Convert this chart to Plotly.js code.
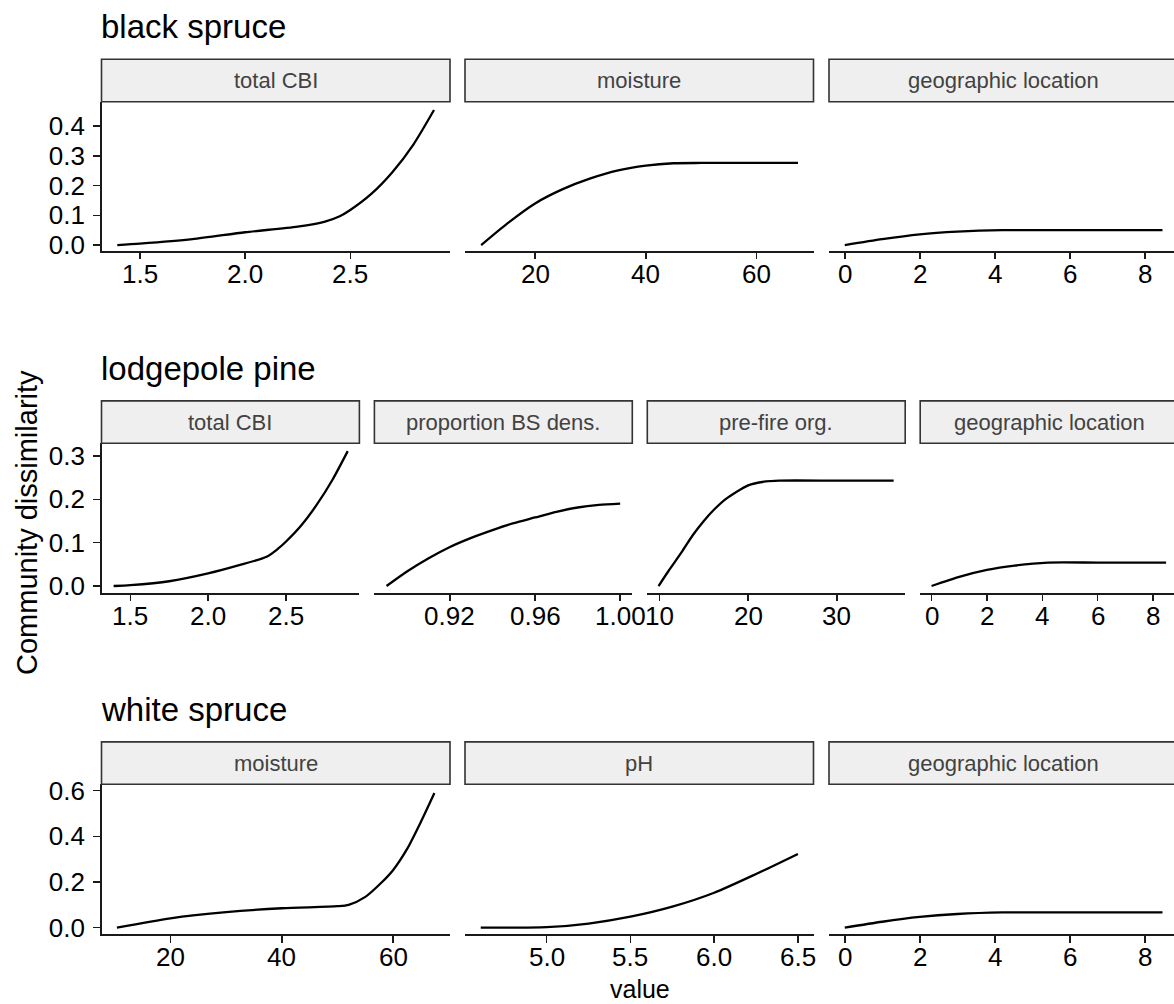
<!DOCTYPE html>
<html>
<head>
<meta charset="utf-8">
<script src="https://cdn.plot.ly/plotly-3.0.1.min.js"></script>
<style>
html, body { margin:0; padding:0; background:#fff; overflow:hidden; }
#chart { width:1178px; height:1004px; }
</style>
</head>
<body>
<div id="chart"></div>
<script>
// ---------------- DATA ----------------
const groupTitles = ["black spruce", "lodgepole pine", "white spruce"];
const stripLabels = [
  ["total CBI", "moisture", "geographic location"],
  ["total CBI", "proportion BS dens.", "pre-fire org.", "geographic location"],
  ["moisture", "pH", "geographic location"]
];
const yTitle = "Community dissimilarity";
const xTitle = "value";

// black spruce
const bsCbiX = [1.393, 1.5, 1.75, 2.0, 2.25, 2.38, 2.45, 2.5, 2.6, 2.7, 2.8, 2.898];
const bsCbiY = [0.000, 0.005, 0.020, 0.043, 0.062, 0.079, 0.097, 0.118, 0.172, 0.245, 0.338, 0.454];
const bsMoistX = [10.25, 15, 20, 25, 30, 35, 40, 45, 50, 60, 67.5];
const bsMoistY = [0.000, 0.073, 0.140, 0.188, 0.224, 0.251, 0.267, 0.275, 0.276, 0.276, 0.276];
const bsGeoX = [0, 1, 2, 3, 4.2, 6, 8.47];
const bsGeoY = [0.000, 0.020, 0.036, 0.045, 0.050, 0.050, 0.050];

// lodgepole pine
const lpCbiX = [1.393, 1.5, 1.75, 2.0, 2.2, 2.38, 2.45, 2.5, 2.6, 2.7, 2.8, 2.898];
const lpCbiY = [0.000, 0.002, 0.011, 0.029, 0.048, 0.068, 0.086, 0.102, 0.140, 0.188, 0.245, 0.311];
const lpPropX = [0.8902, 0.90, 0.91, 0.92, 0.93, 0.94, 0.95, 0.96, 0.97, 0.98, 0.99, 1.00];
const lpPropY = [0.000, 0.034, 0.064, 0.090, 0.111, 0.129, 0.145, 0.158, 0.171, 0.181, 0.187, 0.190];
const lpOrgX = [9.9, 11, 12.5, 13.75, 15, 16.25, 17.5, 20, 22, 23.5, 30, 36.4];
const lpOrgY = [0.000, 0.034, 0.078, 0.117, 0.150, 0.178, 0.201, 0.232, 0.241, 0.243, 0.243, 0.243];
const lpGeoX = [0, 1, 2, 3, 4.2, 6, 8.47];
const lpGeoY = [0.000, 0.021, 0.037, 0.047, 0.054, 0.054, 0.054];

// white spruce
const wsMoistX = [10.4, 20, 30, 40, 50, 52, 55, 58, 60, 62.5, 65, 67.4];
const wsMoistY = [0.000, 0.041, 0.068, 0.085, 0.094, 0.100, 0.135, 0.200, 0.253, 0.345, 0.465, 0.590];
const wsPhX = [4.606, 5.0, 5.25, 5.5, 5.75, 6.0, 6.25, 6.5];
const wsPhY = [0.000, 0.002, 0.018, 0.048, 0.092, 0.153, 0.235, 0.323];
const wsGeoX = [0, 1, 2, 3, 4.2, 6, 8.47];
const wsGeoY = [0.000, 0.026, 0.047, 0.060, 0.067, 0.067, 0.067];

// tick values
const rowYTicks = [[0, 0.1, 0.2, 0.3, 0.4], [0, 0.1, 0.2, 0.3], [0, 0.2, 0.4, 0.6]];
const panelXTicks = [
  [1.5, 2.0, 2.5], [20, 40, 60], [0, 2, 4, 6, 8],
  [1.5, 2.0, 2.5], [0.92, 0.96, 1.00], [10, 20, 30], [0, 2, 4, 6, 8],
  [20, 40, 60], [5.0, 5.5, 6.0, 6.5], [0, 2, 4, 6, 8]
];
const panelXDecimals = [1, 0, 0, 1, 2, 0, 0, 0, 1, 0];

const series = [
  [bsCbiX, bsCbiY], [bsMoistX, bsMoistY], [bsGeoX, bsGeoY],
  [lpCbiX, lpCbiY], [lpPropX, lpPropY], [lpOrgX, lpOrgY], [lpGeoX, lpGeoY],
  [wsMoistX, wsMoistY], [wsPhX, wsPhY], [wsGeoX, wsGeoY]
];

// ---------------- LAYOUT GEOMETRY ----------------
const W = 1178, H = 1004;
const xd = p => p / W;
const yd = p => 1 - p / H;

const rowGeom = [
  {top: 101.7, bottom: 250.7, yr: [-0.019, 0.482], titleY: 27},
  {top: 443.3, bottom: 592.7, yr: [-0.0154, 0.329], titleY: 368},
  {top: 784.3, bottom: 934.3, yr: [-0.029, 0.628], titleY: 709}
];
const cols3 = [[101.5, 450], [465, 813.5], [829, 1177.5]];
const cols4 = [[101.5, 359.4], [374.4, 632.3], [647.3, 905.2], [920.2, 1178]];
const panelRanges = [
  [1.318, 2.974], [7.33, 70.3], [-0.42, 8.87],
  [1.315, 2.973], [0.8845, 1.0057], [8.63, 37.7], [-0.41, 8.9],
  [7.63, 70.2], [4.512, 6.593], [-0.42, 8.87]
];
const panelRow = [0,0,0,1,1,1,1,2,2,2];
const panelCol = [0,1,2,0,1,2,3,0,1,2];

const FONT = "Liberation Sans, Arial, Helvetica, sans-serif";
const lineCol = "#1a1a1a";
const TICK_SIZE = 26;

const traces = [];
const layout = {
  width: W, height: H,
  margin: {l:0, r:0, t:0, b:0},
  paper_bgcolor: "#ffffff", plot_bgcolor: "rgba(0,0,0,0)",
  showlegend: false,
  font: {family: FONT, color: "#000"},
  shapes: [], annotations: []
};

for (let i = 0; i < series.length; i++) {
  const n = i + 1;
  const r = panelRow[i], c = panelCol[i];
  const g = rowGeom[r];
  const cols = (r === 1) ? cols4 : cols3;
  const [x0, x1] = cols[c];
  const xa = n === 1 ? "x" : "x" + n;
  const ya = n === 1 ? "y" : "y" + n;
  traces.push({
    x: series[i][0], y: series[i][1],
    xaxis: xa, yaxis: ya, type: "scatter", mode: "lines",
    line: {color: "#000", width: 2.3, shape: "spline", smoothing: 0.7},
    hoverinfo: "skip"
  });
  layout["xaxis" + (n === 1 ? "" : n)] = {
    domain: [xd(x0), Math.min(1, xd(x1))], anchor: ya,
    range: panelRanges[i], autorange: false,
    showgrid: false, zeroline: false,
    showline: true, linecolor: lineCol, linewidth: 1.8,
    ticks: "outside", ticklen: 6.5, tickwidth: 1.5, tickcolor: lineCol,
    tickvals: panelXTicks[i], showticklabels: false,
    automargin: false, fixedrange: true
  };
  // x tick labels, placed on the axis' own scale
  panelXTicks[i].forEach(v => {
    layout.annotations.push({
      xref: xa, yref: "paper", x: v, y: yd(g.bottom + 23),
      xanchor: "center", yanchor: "middle", showarrow: false, borderpad: 0,
      text: v.toFixed(panelXDecimals[i]),
      font: {family: FONT, size: TICK_SIZE, color: "#000"}
    });
  });
  const yax = {
    domain: [yd(g.bottom), yd(g.top)], anchor: xa,
    range: g.yr, autorange: false,
    showgrid: false, zeroline: false, automargin: false, fixedrange: true
  };
  if (c === 0) {
    Object.assign(yax, {
      showline: true, linecolor: lineCol, linewidth: 1.8,
      ticks: "outside", ticklen: 6.5, tickwidth: 1.5, tickcolor: lineCol,
      tickvals: rowYTicks[r], tickformat: ".1f",
      tickfont: {family: FONT, size: TICK_SIZE, color: "#000"},
      ticklabelstandoff: 3
    });
  } else {
    Object.assign(yax, {showline: false, showticklabels: false, ticks: ""});
  }
  layout["yaxis" + (n === 1 ? "" : n)] = yax;

  // strip box
  const stripH = 42.4;
  layout.shapes.push({
    type: "rect", xref: "paper", yref: "paper",
    x0: xd(x0), x1: xd(x1), y0: yd(g.top), y1: yd(g.top - stripH),
    fillcolor: "#efefef", line: {color: "#333333", width: 1.6}, layer: "above"
  });
  layout.annotations.push({
    xref: "paper", yref: "paper",
    x: xd((x0 + x1) / 2), y: yd(g.top - stripH / 2),
    xanchor: "center", yanchor: "middle", showarrow: false,
    text: stripLabels[r][c],
    font: {family: FONT, size: 22, color: "#424242"}
  });
}

// group titles
for (let r = 0; r < 3; r++) {
  layout.annotations.push({
    xref: "paper", yref: "paper",
    x: xd(99), y: yd(rowGeom[r].titleY),
    xanchor: "left", yanchor: "middle", showarrow: false,
    text: groupTitles[r],
    font: {family: FONT, size: 33, color: "#000"}
  });
}
// axis titles
layout.annotations.push({
  xref: "paper", yref: "paper", x: xd(26.5), y: yd(522.5),
  xanchor: "center", yanchor: "middle", showarrow: false, textangle: -90,
  text: yTitle, font: {family: FONT, size: 29, color: "#000"}
});
layout.annotations.push({
  xref: "paper", yref: "paper", x: xd(639.5), y: yd(1003.5),
  xanchor: "center", yanchor: "bottom", showarrow: false, borderpad: 0,
  text: xTitle, font: {family: FONT, size: 25, color: "#000"}
});

Plotly.newPlot("chart", traces, layout, {staticPlot: true, displayModeBar: false});
</script>
</body>
</html>
